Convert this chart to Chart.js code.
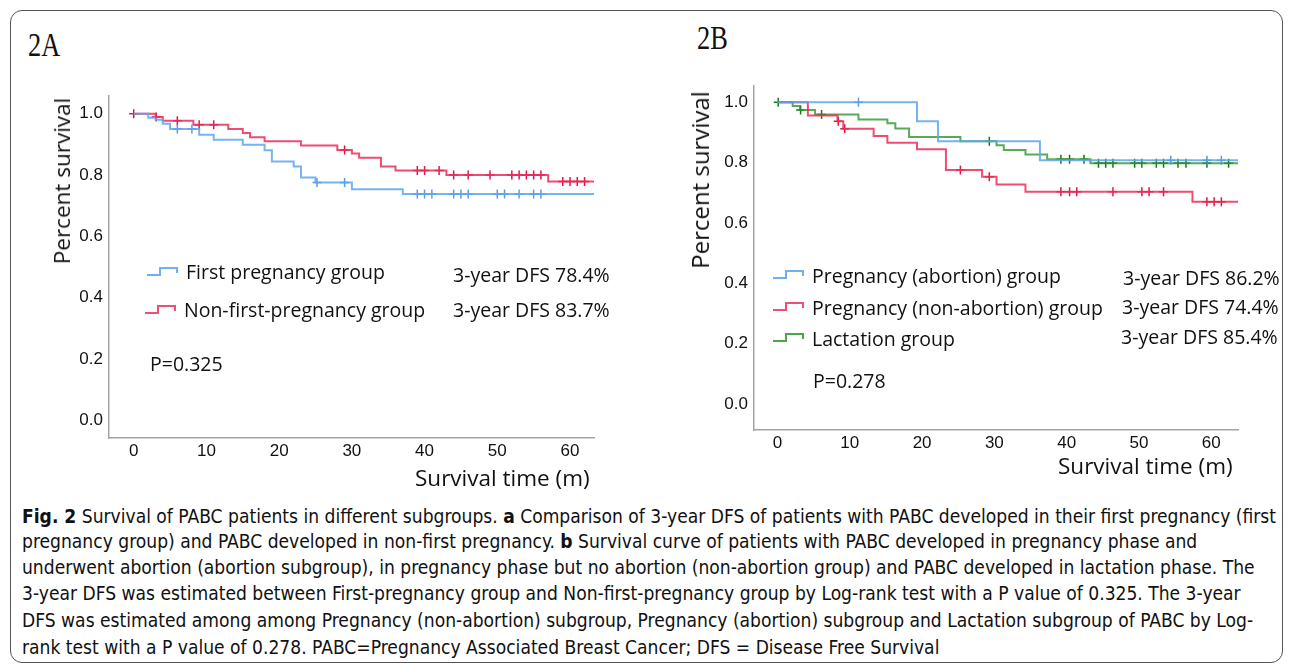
<!DOCTYPE html>
<html>
<head>
<meta charset="utf-8">
<script src="https://cdn.jsdelivr.net/npm/chart.js@4.4.1/dist/chart.umd.min.js"></script>
<style>
  html, body { margin: 0; padding: 0; background: #fff; }
  body { width: 1293px; height: 666px; position: relative; overflow: hidden; font-family: "Open Sans", sans-serif; color: #111; }
  .frame { position: absolute; left: 10px; top: 10px; width: 1271px; height: 651px; border: 1.5px solid #555; border-radius: 12px; }
  .panel-label { position: absolute; font-family: "Liberation Serif", serif; font-size: 33px; line-height: 34px; transform: scaleX(0.8); transform-origin: left top; }
  .plot { position: absolute; }
  .txt { position: absolute; white-space: nowrap; font-size: 19.5px; line-height: 22px; }
  .ytitle { position: absolute; white-space: nowrap; font-size: 22.5px; line-height: 26px; transform: translate(-50%, -50%) rotate(-90deg); }
  .xtitle { position: absolute; white-space: nowrap; font-size: 22.5px; line-height: 26px; }
  .icon { position: absolute; width: 31px; height: 9px; }
  .icon .lo { position: absolute; left: 0; bottom: 0; width: 14px; height: 9px; box-sizing: border-box; border-bottom: 2px solid; border-right: 2px solid; }
  .icon .hi { position: absolute; left: 12px; top: 0; width: 19px; height: 6px; box-sizing: border-box; border-top: 2px solid; border-right: 2px solid; }
  .caption { position: absolute; left: 22px; font-family: "Liberation Sans Narrow", "DejaVu Sans Condensed", "Roboto", sans-serif; font-size: 20px; line-height: 24px; white-space: nowrap; transform-origin: left top; }
  .caption b { font-weight: bold; }
</style>
</head>
<body>
<div class="frame"></div>
<div class="panel-label" style="left:28px; top:28px;">2A</div>
<div class="panel-label" style="left:697px; top:21px;">2B</div>

<canvas id="chartA" class="plot" width="620" height="420" style="left:0px; top:80px;"></canvas>
<canvas id="chartB" class="plot" width="620" height="420" style="left:640px; top:70px;"></canvas>

<!-- axis titles -->
<div class="ytitle" style="left:62px; top:181px;">Percent survival</div>
<div class="ytitle" style="left:700px; top:180px; font-size:24px;">Percent survival</div>
<div class="xtitle" style="left:415px; top:465px;">Survival time (m)</div>
<div class="xtitle" style="left:1058px; top:453px;">Survival time (m)</div>

<!-- legend A -->
<div class="icon" style="left:147px; top:267px; color:#6fb0ee;"><span class="lo"></span><span class="hi"></span></div>
<div class="txt" style="left:186px; top:261px;">First pregnancy group</div>
<div class="txt" style="left:453px; top:264px;">3-year DFS 78.4%</div>
<div class="icon" style="left:145px; top:305px; color:#ee4f75;"><span class="lo"></span><span class="hi"></span></div>
<div class="txt" style="left:184px; top:299px;">Non-first-pregnancy group</div>
<div class="txt" style="left:453px; top:299px;">3-year DFS 83.7%</div>
<div class="txt" style="left:150px; top:353px;">P=0.325</div>

<!-- legend B -->
<div class="icon" style="left:773px; top:270px; color:#6fb0ee;"><span class="lo"></span><span class="hi"></span></div>
<div class="txt" style="left:812px; top:265px;">Pregnancy (abortion) group</div>
<div class="txt" style="left:1123px; top:267px;">3-year DFS 86.2%</div>
<div class="icon" style="left:773px; top:302px; color:#ee4f75;"><span class="lo"></span><span class="hi"></span></div>
<div class="txt" style="left:812px; top:297px;">Pregnancy (non-abortion) group</div>
<div class="txt" style="left:1122px; top:296px;">3-year DFS 74.4%</div>
<div class="icon" style="left:773px; top:333px; color:#4aa64a;"><span class="lo"></span><span class="hi"></span></div>
<div class="txt" style="left:812px; top:328px;">Lactation group</div>
<div class="txt" style="left:1121px; top:326px;">3-year DFS 85.4%</div>
<div class="txt" style="left:813px; top:370px;">P=0.278</div>

<!-- caption -->
<div class="caption" style="top:504px;"><b>Fig. 2</b> Survival of PABC patients in different subgroups. <b>a</b> Comparison of 3-year DFS of patients with PABC developed in their first pregnancy (first</div>
<div class="caption" style="top:529px;">pregnancy group) and PABC developed in non-first pregnancy. <b>b</b> Survival curve of patients with PABC developed in pregnancy phase and</div>
<div class="caption" style="top:555px;">underwent abortion (abortion subgroup), in pregnancy phase but no abortion (non-abortion group) and PABC developed in lactation phase. The</div>
<div class="caption" style="top:581px;">3-year DFS was estimated between First-pregnancy group and Non-first-pregnancy group by Log-rank test with a P value of 0.325. The 3-year</div>
<div class="caption" style="top:608px;">DFS was estimated among among Pregnancy (non-abortion) subgroup, Pregnancy (abortion) subgroup and Lactation subgroup of PABC by Log-</div>
<div class="caption" style="top:635px;">rank test with a P value of 0.278. PABC=Pregnancy Associated Breast Cancer; DFS = Disease Free Survival</div>

<script>
// Panel A: first pregnancy vs non-first pregnancy
const firstTimes = [0, 2, 3, 4, 5, 9, 11, 15, 18, 19, 22, 23, 25, 30, 37];
const firstSurv = [1.0, 0.987, 0.98, 0.967, 0.95, 0.931, 0.915, 0.899, 0.881, 0.844, 0.828, 0.792, 0.776, 0.754, 0.738];
const firstCensor = [6, 8, 25.2, 29, 39, 40, 41, 44, 45, 46, 50, 51, 53, 55, 56];

const nonFirstTimes = [0, 3, 4, 8.2, 13, 15, 16, 18, 23, 28, 30, 31, 34, 36, 43, 57];
const nonFirstSurv = [1.0, 0.989, 0.977, 0.964, 0.95, 0.937, 0.923, 0.91, 0.896, 0.882, 0.87, 0.856, 0.828, 0.815, 0.8, 0.779];
const nonFirstCensor = [0, 3.1, 6, 9, 11, 29, 39, 40, 42, 44, 46, 49, 52, 53, 54, 55, 56, 59, 60, 61, 62];

// Panel B: pregnancy (abortion), pregnancy (non-abortion), lactation
const abortTimes = [0, 19.3, 22.2, 36.3];
const abortSurv = [1.0, 0.937, 0.871, 0.808];
const abortCensor = [11.2, 54.4, 59.4, 61.4];

const nonAbortTimes = [0, 4.2, 8.3, 9.1, 13.3, 15.2, 19.3, 23.3, 28.3, 30.3, 34.3, 57.4];
const nonAbortSurv = [1.0, 0.956, 0.937, 0.912, 0.888, 0.866, 0.844, 0.775, 0.753, 0.727, 0.703, 0.67];
const nonAbortCensor = [8.4, 9.3, 25.3, 29.3, 39.2, 40.4, 41.4, 46.4, 50.4, 51.4, 53.4, 59.4, 60.4, 61.4];

const lactTimes = [0, 2.1, 3.1, 5.2, 11.2, 15.2, 16.3, 18.2, 25.3, 30.3, 31.3, 34.3, 37.3, 43.3];
const lactSurv = [1.0, 0.987, 0.974, 0.959, 0.943, 0.93, 0.913, 0.885, 0.871, 0.857, 0.842, 0.827, 0.811, 0.798];
const lactCensor = [0.1, 3.2, 6.1, 29.3, 39.2, 40.4, 42.4, 44.4, 45.4, 46.4, 49.4, 50.4, 52.4, 53.4, 55.4, 56.5, 59.4, 62.4];

const xTicks = [0, 10, 20, 30, 40, 50, 60];
const yTicks = [0, 0.2, 0.4, 0.6, 0.8, 1.0];

// axis ranges (months / proportion)
const rangeA = { xMin: -3.4, xMax: 63.3, yMin: -0.057, yMax: 1.057 };
const rangeB = { xMin: -3.25, xMax: 63.7, yMin: -0.086, yMax: 1.053 };

function survivalAt(times, surv, t) {
    let v = surv[0];
    for (let i = 0; i < times.length; i++) {
        if (times[i] <= t) v = surv[i];
    }
    return v;
}

function curve(times, surv, end, color) {
    const pts = times.map((t, i) => ({ x: t, y: surv[i] }));
    pts.push({ x: end, y: surv[surv.length - 1] });
    return {
        data: pts,
        stepped: 'before',
        borderColor: color,
        borderWidth: 2,
        pointRadius: 0,
        fill: false
    };
}

function censorMarks(times, surv, censor, color) {
    return {
        data: censor.map((t) => ({ x: t, y: survivalAt(times, surv, t) })),
        showLine: false,
        pointStyle: 'cross',
        pointRadius: 4.5,
        pointBorderWidth: 1.5,
        pointBorderColor: color,
        pointBackgroundColor: color
    };
}

const tickFont = { family: '"Liberation Sans", Arial, sans-serif', size: 17 };

function makeChart(id, datasets, range, pad, yWidth, xHeight) {
    return new Chart(document.getElementById(id), {
        type: 'line',
        data: { datasets: datasets },
        options: {
            responsive: false,
            animation: false,
            layout: { padding: pad },
            plugins: { legend: { display: false }, tooltip: { enabled: false } },
            scales: {
                x: {
                    type: 'linear',
                    min: range.xMin,
                    max: range.xMax,
                    afterBuildTicks: (s) => { s.ticks = xTicks.map((v) => ({ value: v })); },
                    afterFit: (s) => { s.height = xHeight; },
                    ticks: { font: tickFont, color: '#111', padding: 3, maxRotation: 0, callback: (v) => String(v) },
                    grid: { display: false, drawTicks: false },
                    border: { display: true, color: '#a3a3a3', width: 1.5 }
                },
                y: {
                    type: 'linear',
                    min: range.yMin,
                    max: range.yMax,
                    afterBuildTicks: (s) => { s.ticks = yTicks.map((v) => ({ value: v })); },
                    afterFit: (s) => { s.width = yWidth; },
                    ticks: { font: tickFont, color: '#111', padding: 6, callback: (v) => v.toFixed(1) },
                    grid: { display: false, drawTicks: false },
                    border: { display: true, color: '#a3a3a3', width: 1.5 }
                }
            }
        }
    });
}

const blue = 'rgba(95, 165, 238, 0.85)';
const red = 'rgba(236, 45, 88, 0.85)';
const green = 'rgba(45, 150, 45, 0.8)';

makeChart('chartA', [
    curve(firstTimes, firstSurv, rangeA.xMax, blue),
    censorMarks(firstTimes, firstSurv, firstCensor, 'rgba(70, 145, 230, 0.9)'),
    curve(nonFirstTimes, nonFirstSurv, rangeA.xMax, red),
    censorMarks(nonFirstTimes, nonFirstSurv, nonFirstCensor, 'rgba(220, 10, 60, 0.95)')
], rangeA, { left: 0, top: 13, right: 26, bottom: 0 }, 109, 62);

makeChart('chartB', [
    curve(abortTimes, abortSurv, rangeB.xMax, blue),
    censorMarks(abortTimes, abortSurv, abortCensor, 'rgba(70, 145, 230, 0.9)'),
    curve(nonAbortTimes, nonAbortSurv, rangeB.xMax, red),
    censorMarks(nonAbortTimes, nonAbortSurv, nonAbortCensor, 'rgba(220, 10, 60, 0.95)'),
    curve(lactTimes, lactSurv, rangeB.xMax, green),
    censorMarks(lactTimes, lactSurv, lactCensor, 'rgba(10, 110, 10, 0.95)')
], rangeB, { left: 0, top: 15, right: 22, bottom: 0 }, 114, 60);

// fit caption lines to the width of the first line in the reference
const capLines = document.querySelectorAll('.caption');
const capScale = 1254 / capLines[0].getBoundingClientRect().width;
capLines.forEach((el) => { el.style.transform = 'scaleX(' + capScale + ')'; });
</script>
</body>
</html>
